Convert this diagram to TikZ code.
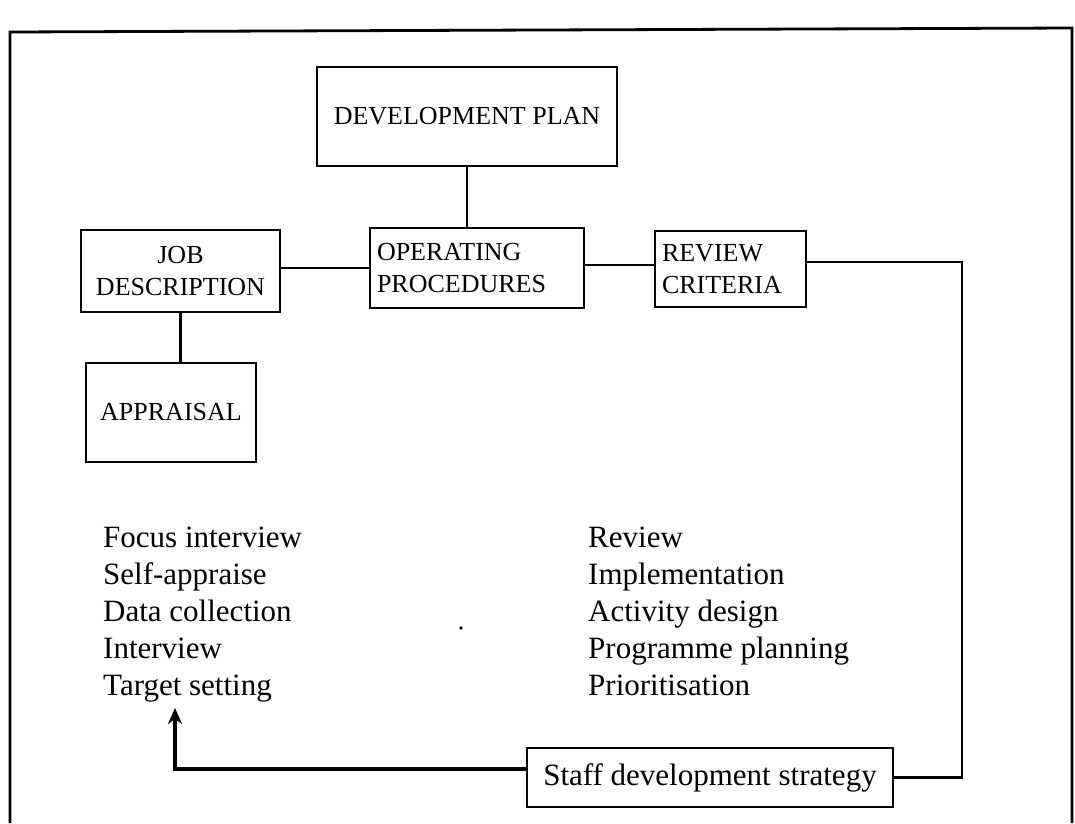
\documentclass[tikz,border=0pt]{standalone}
\usepackage{fontspec}
\setmainfont{Liberation Serif}
\usetikzlibrary{arrows.meta}
\begin{document}
\begin{tikzpicture}[x=1pt,y=-1pt,
  box/.style={draw, line width=2.2pt, inner sep=0pt, font=\fontsize{26}{32}\selectfont},
  item/.style={anchor=base west, inner sep=0pt, font=\fontsize{31}{37}\selectfont},
  link/.style={line width=2.2pt}]
\useasboundingbox (0,0) rectangle (1075,823);
% frame
\draw[line width=2.8pt] (10,823) -- (10,32) -- (1072,28) -- (1072,823);
% boxes
\node[box, minimum width=300pt, minimum height=99pt] (dp) at (467,116.5) {DEVELOPMENT PLAN};
\node[box, minimum width=199pt, minimum height=82pt, align=center] (jd) at (180.5,271) {JOB\\DESCRIPTION};
\node[box, text width=200pt, inner xsep=7pt, minimum height=80pt, align=left] (op) at (477,268) {OPERATING\\PROCEDURES};
\node[box, text width=137pt, inner xsep=7pt, minimum height=76pt, align=left] (rc) at (730.5,269) {REVIEW\\CRITERIA};
\node[box, minimum width=170pt, minimum height=99pt] (ap) at (171,412.5) {APPRAISAL};
\node[box, font=\fontsize{31}{37}\selectfont, minimum width=366pt, minimum height=59pt] (sds) at (710,777.5) {Staff development strategy};
% lists
\foreach \t [count=\i from 0] in {Focus interview, Self-appraise, Data collection, Interview, Target setting}
  \node[item] (l\i) at (103,{547+37*\i}) {\t};
\foreach \t [count=\i from 0] in {Review, Implementation, Activity design, Programme planning, Prioritisation}
  \node[item] (r\i) at (588,{547+37*\i}) {\t};
% connectors
\draw[link] (dp.south) -- (dp.south |- op.north);
\draw[link] (op.west) -- (op.west -| jd.east);
\draw[link] ([yshift=3pt]op.east) -- ([yshift=3pt]op.east -| rc.west);
\draw[link] (jd.south) -- (jd.south |- ap.north);
\coordinate (c1) at (962,262);
\draw[link] ([yshift=7pt]rc.east) -- (c1) |- (sds.east);
\coordinate (tip) at (175,708);
\draw[line width=3.5pt, -{Stealth[length=16pt,width=14pt]}] ([yshift=8.5pt]sds.west) -| (tip);
% stray dot
\fill (461,628) circle (1.8pt);
\end{tikzpicture}
\end{document}
